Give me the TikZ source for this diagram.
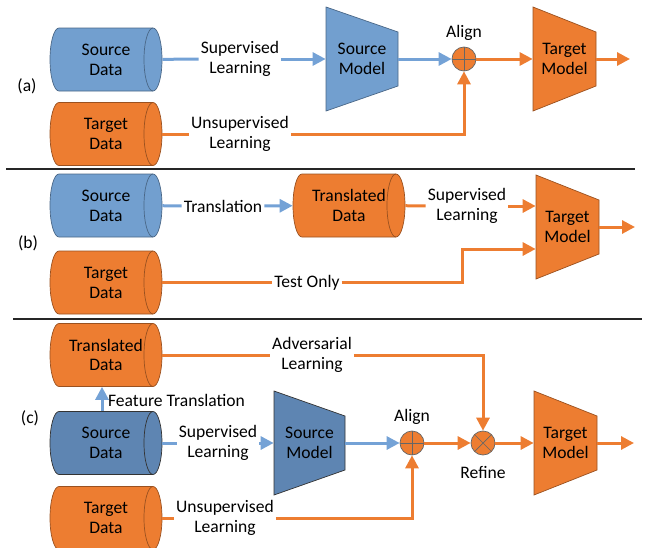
\documentclass[tikz,border=0pt]{standalone}
\usepackage{fontspec}
\setmainfont{Carlito}
\usetikzlibrary{calc,arrows.meta}
\newcommand{\unitsize}{0.02cm}
\definecolor{srcblue}{RGB}{114,159,207}
\definecolor{srcdark}{RGB}{94,133,178}
\definecolor{tgtorange}{RGB}{237,125,49}
\definecolor{lineblue}{RGB}{116,162,214}
\newcommand{\makedata}[4]{
	\draw[#3] ($(#2)+(-47,31.5)$) -- ($(#2)+(47,31.5)$) arc[start angle=90, end angle=-90, x radius=9, y radius=31.5] -- ($(#2)+(-47,-31.5)$) arc[start angle=270, end angle=90, x radius=9, y radius=31.5] -- cycle;
	\draw[#3, fill=none] ($(#2)+(47,31.5)$) arc[start angle=90, end angle=270, x radius=9, y radius=31.5];
	\node[minimum width=112*\unitsize, minimum height=63*\unitsize, inner sep=0pt, align=center] (#1) at (#2) {#4};
}
\newcommand{\makemodel}[5]{
	\draw[#4] ($(#2)+(-#3/2,52)$) -- ($(#2)+(#3/2,27)$) -- ($(#2)+(#3/2,-27)$) -- ($(#2)+(-#3/2,-52)$) -- cycle;
	\node[minimum width=#3*\unitsize, minimum height=104*\unitsize, inner sep=0pt, align=center] (#1) at (#2) {#5};
}
\tikzset{
	bluefill/.style={fill=srcblue, draw=srcblue!65!black, thin},
	darkfill/.style={fill=srcdark, draw=black!80, thin},
	orangefill/.style={fill=tgtorange, draw=tgtorange!65!black, thin},
	lbl/.style={align=center, inner sep=1pt},
	blueline/.style={draw=lineblue, line width=0.06cm},
	orangeline/.style={draw=tgtorange, line width=0.06cm},
	bluearrow/.style={blueline, -{Triangle[length=0.26cm,width=0.26cm]}},
	orangearrow/.style={orangeline, -{Triangle[length=0.26cm,width=0.26cm]}},
	sumnode/.style={circle, fill=tgtorange, draw=black!60, minimum size=24*\unitsize, inner sep=0pt,
		path picture={\draw[black!60] (path picture bounding box.north) -- (path picture bounding box.south) (path picture bounding box.west) -- (path picture bounding box.east);}},
	prodnode/.style={circle, fill=tgtorange, draw=black!60, minimum size=24*\unitsize, inner sep=0pt,
		path picture={\draw[black!60] (path picture bounding box.north west) -- (path picture bounding box.south east) (path picture bounding box.south west) -- (path picture bounding box.north east);}}
}

\begin{document}
\begin{tikzpicture}[x=\unitsize,y=\unitsize,font=\fontsize{10}{11.3}\selectfont]
	\useasboundingbox (0,0) rectangle (650,-548);

	% (a)
	\node at (27,-86) {(a)};
	\makedata{srcA}{106,-59.5}{bluefill}{Source\\Data}
	\makedata{tgtA}{106,-134}{orangefill}{Target\\Data}
	\node[lbl] (supA) at (240,-59) {Supervised\\Learning};
	\node[lbl] (unsupA) at (240,-134) {Unsupervised\\Learning};
	\makemodel{smA}{362,-59}{72}{bluefill}{Source\\Model}
	\node[sumnode, label=above:Align] (alignA) at (464,-59) {};
	\makemodel{tmA}{564.5,-59}{63}{orangefill}{Target\\Model}
	\coordinate (outA) at (630,-59);

	\draw[blueline] (srcA) -- (supA);
	\draw[bluearrow] (supA) -- (smA);
	\draw[bluearrow] (smA) -- (alignA);
	\draw[orangearrow] (alignA) -- (tmA);
	\draw[orangearrow] (tmA) -- (outA);
	\draw[orangeline] (tgtA) -- (unsupA);
	\draw[orangearrow] (unsupA) -| (alignA);

	\draw[black!85, line width=0.8pt] (6,-169) -- (635,-169);

	% (b)
	\node at (28,-243) {(b)};
	\makedata{srcB}{106,-205.5}{bluefill}{Source\\Data}
	\makedata{tgtB}{106,-282.5}{orangefill}{Target\\Data}
	\node[lbl] (transB) at (223,-206) {Translation};
	\makedata{trdB}{349,-205.5}{orangefill}{Translated\\Data}
	\node[lbl] (supB) at (467,-206) {Supervised\\Learning};
	\makemodel{tmB}{567.5,-227}{63}{orangefill}{Target\\Model}
	\node[lbl] (testB) at (307,-282.5) {Test Only};
	\coordinate (bendB) at (462,-282.5);
	\coordinate (outB) at (635,-227);

	\draw[blueline] (srcB) -- (transB);
	\draw[bluearrow] (transB) -- (trdB);
	\draw[orangeline] (trdB) -- (supB);
	\draw[orangearrow] (supB) -- (supB -| tmB.west);
	\draw[orangeline] (tgtB) -- (testB);
	\draw[orangearrow] (testB) -- (bendB) |- ($(tmB.west)+(0,-22)$);
	\draw[orangearrow] (tmB) -- (outB);

	\draw[black!85, line width=0.8pt] (13,-319) -- (642,-319);

	% (c)
	\node at (30,-418) {(c)};
	\makedata{trdC}{106,-355}{orangefill}{Translated\\Data}
	\makedata{srcC}{106,-443}{darkfill}{Source\\Data}
	\makedata{tgtC}{106,-518}{orangefill}{Target\\Data}
	\node[lbl, anchor=west] (featC) at (106,-400) {Feature Translation};
	\node[lbl] (advC) at (312,-355) {Adversarial\\Learning};
	\node[lbl] (supC) at (218,-443) {Supervised\\Learning};
	\makemodel{smC}{309.5,-443}{71}{darkfill}{Source\\Model}
	\node[sumnode, label=above:Align] (alignC) at (412,-443) {};
	\node[prodnode, label={[label distance=0.1cm]below:Refine}] (refineC) at (483,-443) {};
	\makemodel{tmC}{565.5,-443}{63}{orangefill}{Target\\Model}
	\node[lbl] (unsupC) at (225,-518) {Unsupervised\\Learning};
	\coordinate (outC) at (634,-443);

	\draw[bluearrow] ($(srcC.north)+(-4,0)$) -- ($(trdC.south)+(-4,0)$);
	\draw[orangeline] (trdC) -- (advC);
	\draw[orangearrow] (advC) -| (refineC);
	\draw[blueline] (srcC) -- (supC);
	\draw[bluearrow] (supC) -- (smC);
	\draw[bluearrow] (smC) -- (alignC);
	\draw[orangearrow] (alignC) -- (refineC);
	\draw[orangearrow] (refineC) -- (tmC);
	\draw[orangearrow] (tmC) -- (outC);
	\draw[orangeline] (tgtC) -- (unsupC);
	\draw[orangearrow] (unsupC) -| (alignC);
\end{tikzpicture}
\end{document}
